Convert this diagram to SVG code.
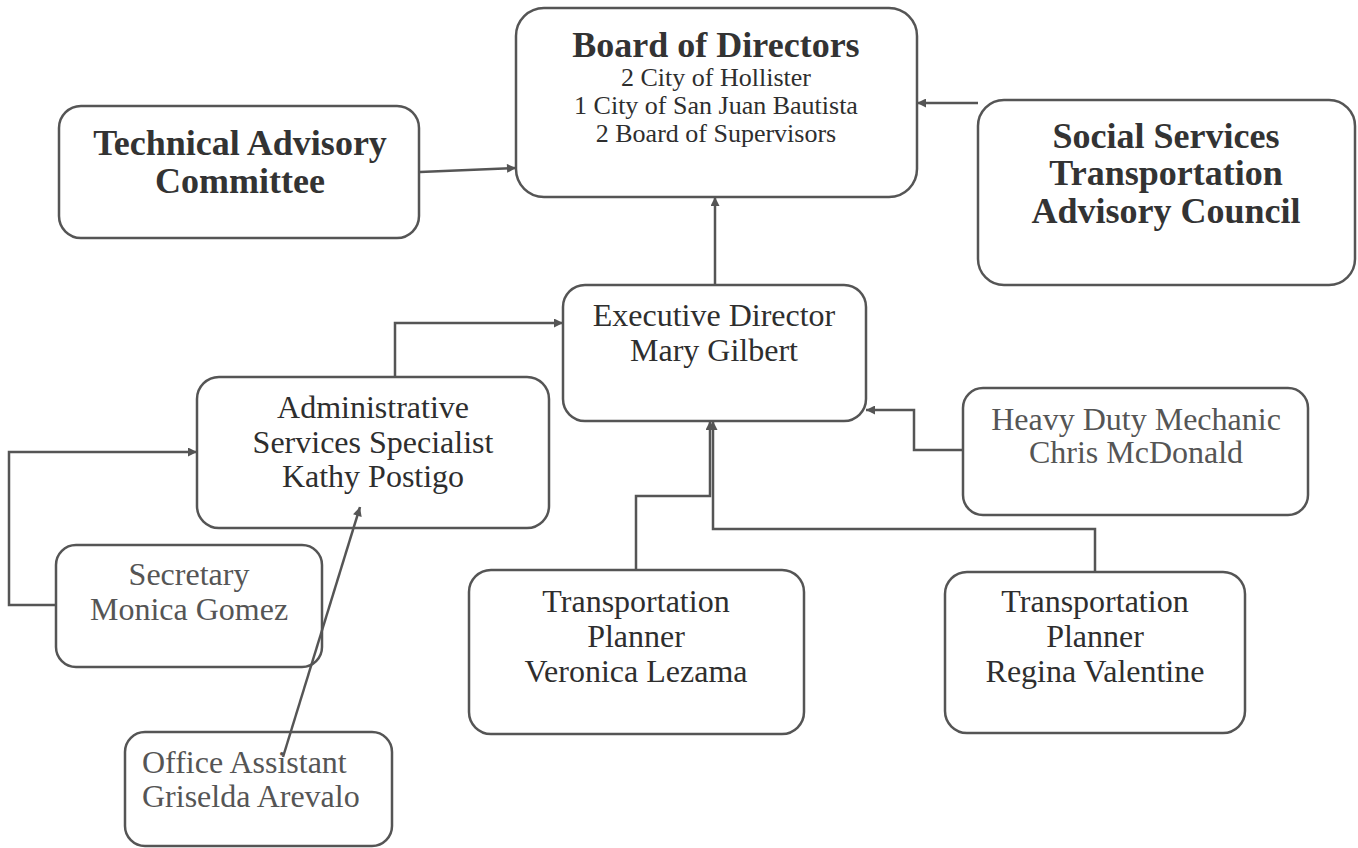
<svg xmlns="http://www.w3.org/2000/svg" width="1358" height="848" viewBox="0 0 1358 848">
<style>
.box{fill:#fff;stroke:#555;stroke-width:2.5}
.con{fill:none;stroke:#555;stroke-width:2.5}
.t{font-family:"Liberation Serif","Times New Roman",serif;fill:#2e2e2e;text-anchor:middle}
.b{font-weight:bold;font-size:36px;fill:#333}
.r{font-size:32px}
.s{font-size:26px}
.g{fill:#555}
.l{text-anchor:start}
</style>
<defs>
<marker id="ah" viewBox="0 0 10 10" refX="10" refY="5" markerWidth="11" markerHeight="9" markerUnits="userSpaceOnUse" orient="auto">
<path d="M0,0 L10,5 L0,10 z" fill="#555"/>
</marker>
</defs>
<rect width="1358" height="848" fill="#fff"/>
<g id="board">
<rect class="box" x="516" y="8" width="401" height="189" rx="28"/>
<text class="t b" x="716" y="57">Board of Directors</text>
<text class="t s" x="716" y="86">2 City of Hollister</text>
<text class="t s" x="716" y="114">1 City of San Juan Bautista</text>
<text class="t s" x="716" y="142">2 Board of Supervisors</text>
</g>
<g id="tac">
<rect class="box" x="59" y="106" width="360" height="132" rx="22"/>
<text class="t b" x="240" y="155">Technical Advisory</text>
<text class="t b" x="240" y="193">Committee</text>
</g>
<g id="sstac">
<rect class="box" x="978" y="100" width="377" height="185" rx="26"/>
<text class="t b" x="1166" y="148">Social Services</text>
<text class="t b" x="1166" y="185">Transportation</text>
<text class="t b" x="1166" y="223">Advisory Council</text>
</g>
<g id="exec">
<rect class="box" x="563" y="285" width="303" height="136" rx="22"/>
<text class="t r" x="714" y="326">Executive Director</text>
<text class="t r" x="714" y="361">Mary Gilbert</text>
</g>
<g id="admin">
<rect class="box" x="197" y="377" width="352" height="151" rx="22"/>
<text class="t r" x="373" y="418">Administrative</text>
<text class="t r" x="373" y="453">Services Specialist</text>
<text class="t r" x="373" y="487">Kathy Postigo</text>
</g>
<g id="heavy">
<rect class="box" x="963" y="388" width="345" height="127" rx="20"/>
<text class="t r g" x="1136" y="430">Heavy Duty Mechanic</text>
<text class="t r g" x="1136" y="463">Chris McDonald</text>
</g>
<g id="secretary">
<rect class="box" x="56" y="545" width="266" height="122" rx="20"/>
<text class="t r g" x="189" y="585">Secretary</text>
<text class="t r g" x="189" y="620">Monica Gomez</text>
</g>
<g id="veronica">
<rect class="box" x="469" y="570" width="335" height="164" rx="22"/>
<text class="t r" x="636" y="612">Transportation</text>
<text class="t r" x="636" y="647">Planner</text>
<text class="t r" x="636" y="682">Veronica Lezama</text>
</g>
<g id="regina">
<rect class="box" x="945" y="572" width="300" height="161" rx="22"/>
<text class="t r" x="1095" y="612">Transportation</text>
<text class="t r" x="1095" y="647">Planner</text>
<text class="t r" x="1095" y="682">Regina Valentine</text>
</g>
<g id="office">
<rect class="box" x="125" y="732" width="267" height="114" rx="20"/>
<text class="t r g l" x="142" y="773">Office Assistant</text>
<text class="t r g l" x="142" y="807">Griselda Arevalo</text>
</g>
<g id="connectors">
<path class="con" d="M420,172 L516,168" marker-end="url(#ah)"/>
<path class="con" d="M978,103 L917,103" marker-end="url(#ah)"/>
<path class="con" d="M715,285 L715,197" marker-end="url(#ah)"/>
<path class="con" d="M395,377 L395,323 L563,323" marker-end="url(#ah)"/>
<path class="con" d="M56,605 L9,605 L9,452 L197,452" marker-end="url(#ah)"/>
<path class="con" d="M283,757 L360,507" marker-end="url(#ah)"/>
<path class="con" d="M963,450 L914,450 L914,410 L866,410" marker-end="url(#ah)"/>
<path class="con" d="M636,570 L636,496 L710,496 L710,421" marker-end="url(#ah)"/>
<path class="con" d="M1095,572 L1095,529 L713,529 L713,421" marker-end="url(#ah)"/>
</g>
</svg>
